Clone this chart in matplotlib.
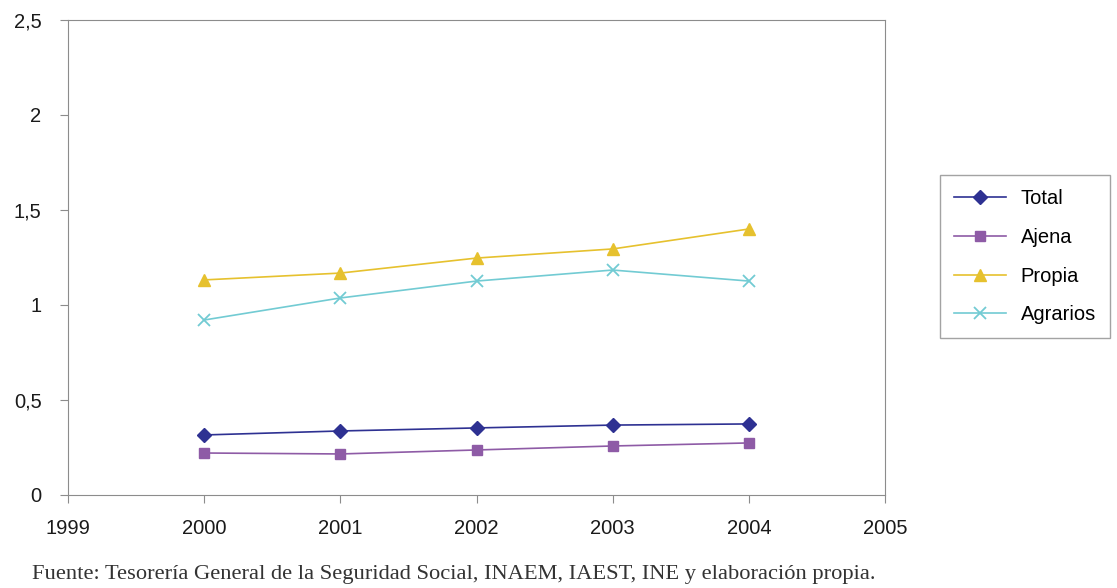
import matplotlib.pyplot as plt
from matplotlib.ticker import FuncFormatter

years = [2000, 2001, 2002, 2003, 2004]
total = [0.316, 0.337, 0.353, 0.368, 0.374]
ajena = [0.221, 0.216, 0.237, 0.258, 0.274]
propia = [1.132, 1.168, 1.247, 1.295, 1.400]
agrarios = [0.921, 1.037, 1.126, 1.184, 1.126]

plt.rcParams['font.family'] = ['Liberation Sans', 'DejaVu Sans']

fig = plt.figure(figsize=(11.17, 5.88), dpi=100)
ax = fig.add_axes([68 / 1117, 1 - 495 / 588, (885 - 68) / 1117, (495 - 20) / 588])

ax.plot(years, total, color='#2e3192', marker='D', markersize=7.5, lw=1.2, label='Total')
ax.plot(years, ajena, color='#8e5ba6', marker='s', markersize=7, lw=1.2, label='Ajena')
ax.plot(years, propia, color='#e6c12e', marker='^', markersize=8.5, lw=1.2, label='Propia')
ax.plot(years, agrarios, color='#72cbd3', marker='x', markersize=8.5, mew=1.3, lw=1.2, label='Agrarios')

ax.set_xlim(1999, 2005)
ax.set_ylim(0, 2.5)
ax.set_xticks(range(1999, 2006))
ax.set_yticks([0, 0.5, 1, 1.5, 2, 2.5])
ax.yaxis.set_major_formatter(FuncFormatter(lambda v, p: ('%g' % v).replace('.', ',')))
for s in ax.spines.values():
    s.set_color('#8c8c8c')
ax.tick_params(colors='#8c8c8c', labelcolor='#1a1a1a', labelsize=14.5, length=6)
ax.tick_params(axis='x', pad=11)
ax.tick_params(axis='y', pad=13)

leg = ax.legend(loc='upper left', bbox_to_anchor=(940 / 1117, 1 - 175 / 588),
                bbox_transform=fig.transFigure, fontsize=14.5, frameon=True,
                fancybox=False, edgecolor='#8c8c8c', handlelength=2.6,
                labelspacing=0.98, borderpad=0.7, handletextpad=0.7, borderaxespad=0)
leg.get_frame().set_linewidth(1)

fig.text(32 / 1117, 1 - 574 / 588, 'Fuente: Tesorería General de la Seguridad Social, INAEM, IAEST, INE y elaboración propia.',
         family=['Liberation Serif', 'DejaVu Serif'], fontsize=16.2, color='#333333', va='center')

fig.savefig('out.png', dpi=100)
